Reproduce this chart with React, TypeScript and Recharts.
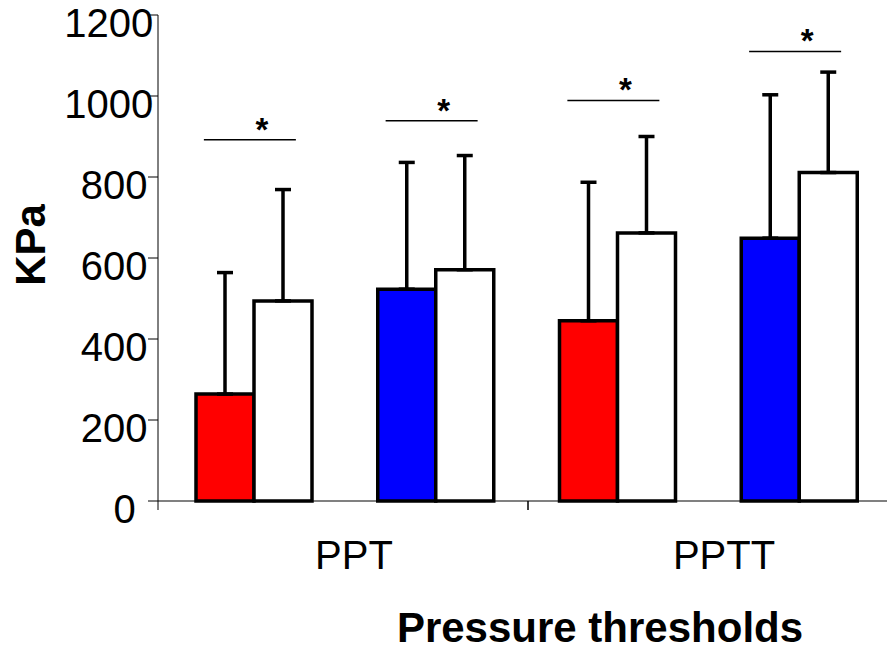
import React from "react";
import {
  ComposedChart,
  Bar,
  Cell,
  ErrorBar,
  Scatter,
  XAxis,
  YAxis,
  Label,
} from "recharts";

// values (KPa)
const pairs = ["PPT a", "PPT b", "PPTT a", "PPTT b"];
const groups = ["PPT", "PPT", "PPTT", "PPTT"];
const coloredMean = [264, 523, 445, 649];
const coloredSD = [300, 313, 342, 354];
const whiteMean = [494, 571, 662, 811];
const whiteSD = [275, 282, 238, 248];
const sigLevel = [892, 939, 989, 1110];
const yTicks = [0, 200, 400, 600, 800, 1000, 1200];

const barColors = ["#ff0000", "#0000ff", "#ff0000", "#0000ff"];
const FONT = '"Liberation Sans", Arial, Helvetica, sans-serif';

const data = pairs.map((pair, i) => ({
  pair,
  group: groups[i],
  colored: coloredMean[i],
  coloredErr: [0, coloredSD[i]],
  white: whiteMean[i],
  whiteErr: [0, whiteSD[i]],
  sig: sigLevel[i],
}));

const W = 900;
const H = 652;
const margin = { top: 15, right: 2, bottom: 1, left: 0 };
const Y_AXIS_W = 158;
const PLOT_W = W - margin.left - margin.right - Y_AXIS_W;
const HALF_GROUP = PLOT_W / 4;

const YTick = (props: any) => {
  const { x, y, payload } = props;
  const label = String(payload.value);
  const axisX = x + 10;
  // labels in the source sit a bit left of the ticks, shorter ones more so
  const right = axisX - 28 + 5.8 * label.length;
  return (
    <text x={right} y={y + 22} textAnchor="end" fontFamily={FONT} fontSize={40} fill="#000">
      {label}
    </text>
  );
};

const GroupTick = (props: any) => {
  const { x, y, payload } = props;
  return (
    <g>
      <line x1={x - HALF_GROUP} x2={x - HALF_GROUP} y1={y} y2={y + 9} stroke="#000" />
      <line x1={x + HALF_GROUP} x2={x + HALF_GROUP} y1={y} y2={y + 9} stroke="#000" />
      <text x={x + 11} y={y + 68} textAnchor="middle" fontFamily={FONT} fontSize={40} fill="#000">
        {payload.value}
      </text>
    </g>
  );
};

const SigMark = (props: any) => {
  const { cx, cy } = props;
  if (cx == null || cy == null) return null;
  return (
    <g>
      <line x1={cx - 50} x2={cx + 42} y1={cy} y2={cy} stroke="#000" strokeWidth={1.5} />
      <text x={cx + 8} y={cy + 1} textAnchor="middle" fontFamily={FONT} fontSize={33} fontWeight="bold" fill="#000">
        *
      </text>
    </g>
  );
};

const XTitle = (props: any) => {
  const vb = props.viewBox || { x: 158, y: 501, width: 740, height: 150 };
  return (
    <text x={vb.x + vb.width / 2 + 72} y={vb.y + 141} textAnchor="middle" fontFamily={FONT} fontSize={42} fontWeight="bold" fill="#000">
      Pressure thresholds
    </text>
  );
};

const YTitle = (props: any) => {
  const vb = props.viewBox || { x: 0, y: 15, width: 158, height: 486 };
  const cx = vb.x + 30;
  const cy = vb.y + vb.height / 2 - 13;
  return (
    <text x={cx} y={cy} transform={`rotate(-90, ${cx}, ${cy})`} textAnchor="middle" dominantBaseline="central" fontFamily={FONT} fontSize={42} fontWeight="bold" fill="#000">
      KPa
    </text>
  );
};

export default function App() {
  return (
    <div style={{ width: 887, height: 652, overflow: "hidden", background: "#fff" }}>
      <style>{"html,body{margin:0;overflow:hidden;background:#fff}"}</style>
      <ComposedChart width={W} height={H} data={data} margin={margin} barGap={0}>
        <XAxis xAxisId="pair" dataKey="pair" hide height={0} padding={{ left: 5, right: 8 }} />
        <XAxis
          xAxisId="group"
          dataKey="group"
          allowDuplicatedCategory={false}
          height={150}
          interval={0}
          tick={<GroupTick />}
          tickLine={false}
          tickSize={0}
          tickMargin={0}
          axisLine={{ stroke: "#808080", strokeWidth: 2 }}
          {...({ zIndex: 100 } as any)}
        >
          <Label content={XTitle} />
        </XAxis>
        <YAxis
          width={Y_AXIS_W}
          domain={[0, 1200]}
          ticks={yTicks}
          interval={0}
          tick={<YTick />}
          tickSize={10}
          tickMargin={0}
          axisLine={{ stroke: "#000" }}
          tickLine={{ stroke: "#000" }}
        >
          <Label content={YTitle} />
        </YAxis>
        <Bar xAxisId="pair" dataKey="colored" barSize={58} stroke="#000" strokeWidth={3.5} isAnimationActive={false}>
          {data.map((d, i) => (
            <Cell key={d.pair} fill={barColors[i]} />
          ))}
          <ErrorBar dataKey="coloredErr" direction="y" width={8} strokeWidth={3.5} stroke="#000" isAnimationActive={false} />
        </Bar>
        <Bar xAxisId="pair" dataKey="white" barSize={58} fill="#ffffff" stroke="#000" strokeWidth={3.5} isAnimationActive={false}>
          <ErrorBar dataKey="whiteErr" direction="y" width={8} strokeWidth={3.5} stroke="#000" isAnimationActive={false} />
        </Bar>
        <Scatter xAxisId="pair" dataKey="sig" shape={SigMark} isAnimationActive={false} />
      </ComposedChart>
    </div>
  );
}
